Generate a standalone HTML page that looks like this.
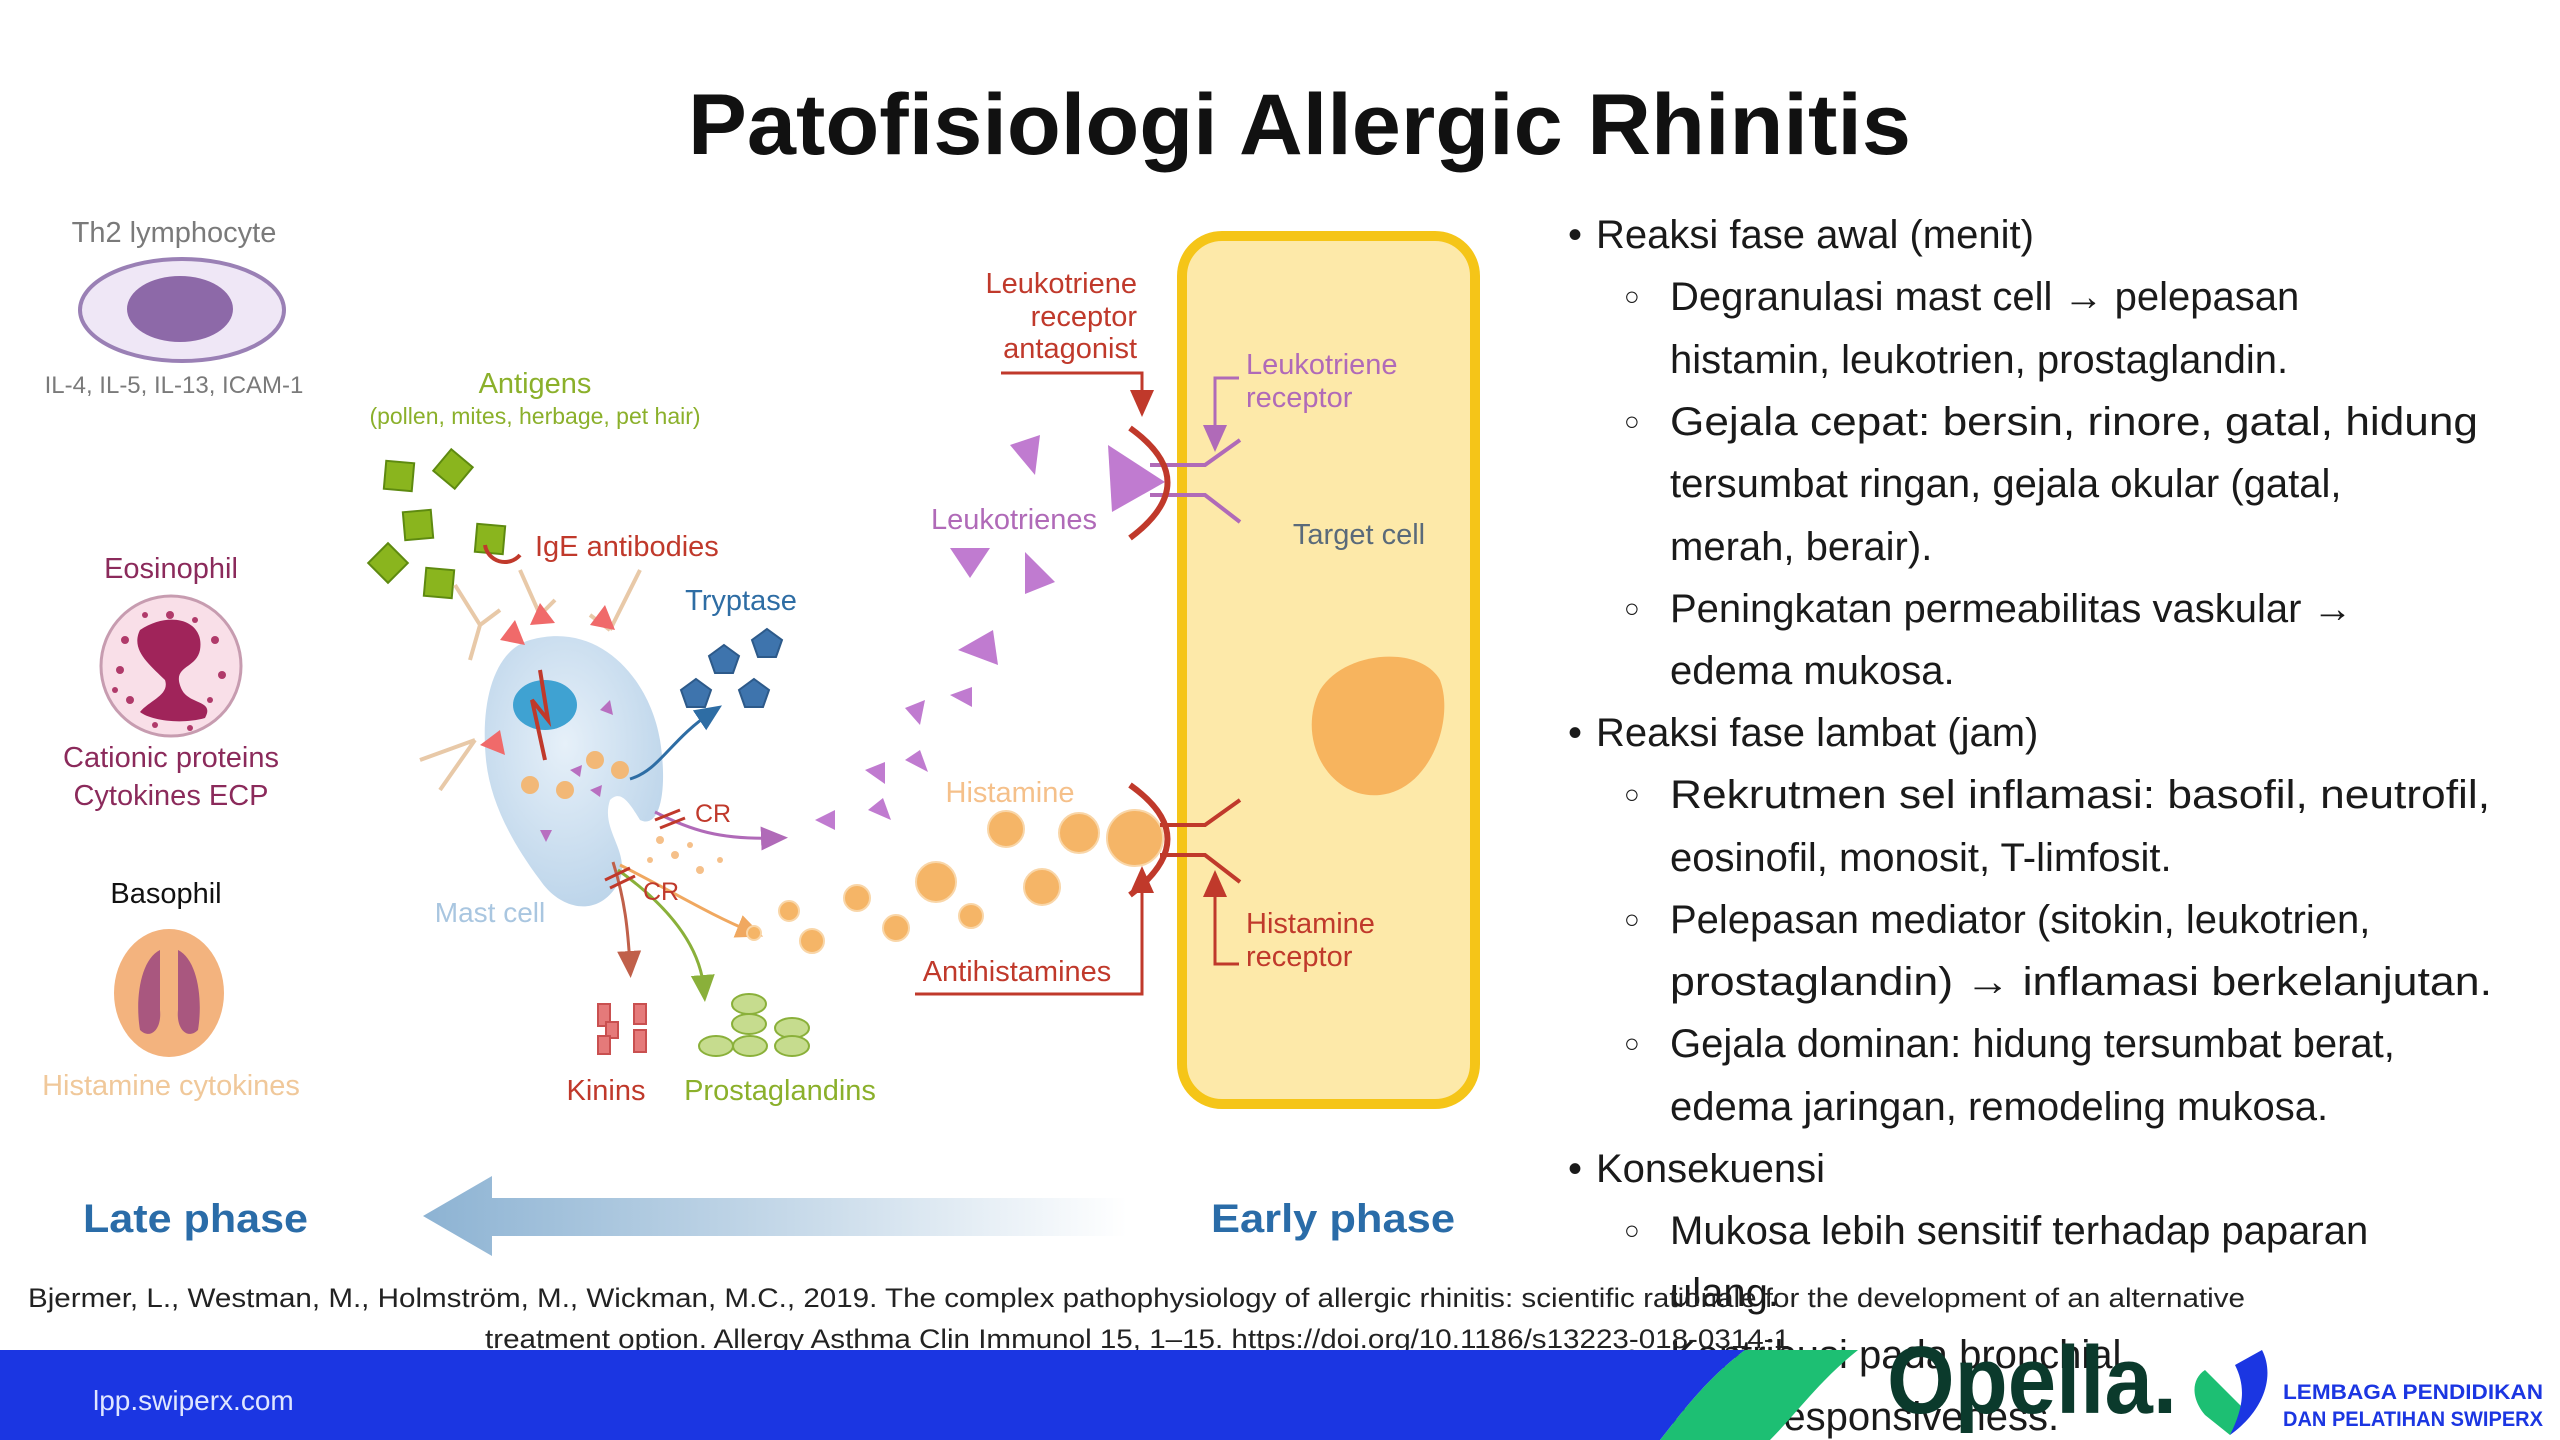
<!DOCTYPE html>
<html><head><meta charset="utf-8"><style>
html,body{margin:0;padding:0;background:#fff;}
svg{display:block;}
text{font-family:"Liberation Sans",sans-serif;}
</style></head><body>
<svg width="2560" height="1440" viewBox="0 0 2560 1440" xmlns="http://www.w3.org/2000/svg">
<defs>
<linearGradient id="ag" x1="0" x2="1" y1="0" y2="0"><stop offset="0" stop-color="#8db3d3"/><stop offset="0.55" stop-color="#c9dbea"/><stop offset="1" stop-color="#ffffff"/></linearGradient>
<radialGradient id="mc" cx="0.45" cy="0.4" r="0.7"><stop offset="0" stop-color="#e6f0f9"/><stop offset="1" stop-color="#b7d1e8"/></radialGradient>
<marker id="mR" markerWidth="10" markerHeight="10" refX="5" refY="5" orient="auto"><path d="M0,1 L9,5 L0,9 Z" fill="#c0392b"/></marker>
<marker id="mP" markerWidth="10" markerHeight="10" refX="5" refY="5" orient="auto"><path d="M0,1 L9,5 L0,9 Z" fill="#b06ab8"/></marker>
<marker id="mB" markerWidth="10" markerHeight="10" refX="5" refY="5" orient="auto"><path d="M0,1 L9,5 L0,9 Z" fill="#2e6da4"/></marker>
<marker id="mG" markerWidth="10" markerHeight="10" refX="5" refY="5" orient="auto"><path d="M0,1 L9,5 L0,9 Z" fill="#8ab03a"/></marker>
<marker id="mO" markerWidth="10" markerHeight="10" refX="5" refY="5" orient="auto"><path d="M0,1 L9,5 L0,9 Z" fill="#f0a860"/></marker>
<marker id="mK" markerWidth="10" markerHeight="10" refX="5" refY="5" orient="auto"><path d="M0,1 L9,5 L0,9 Z" fill="#c0604a"/></marker>
</defs>

<!-- Title -->
<text x="688" y="154" font-size="86" font-weight="bold" fill="#111" textLength="1223" lengthAdjust="spacingAndGlyphs">Patofisiologi Allergic Rhinitis</text>

<!-- Left column cells -->
<text x="174" y="242" font-size="29" fill="#7a7a7a" text-anchor="middle">Th2 lymphocyte</text>
<ellipse cx="182" cy="310" rx="102" ry="51" fill="#efe7f6" stroke="#9a80b5" stroke-width="4"/>
<ellipse cx="180" cy="309" rx="53" ry="33" fill="#8d69a8"/>
<text x="174" y="393" font-size="24" fill="#7a7a7a" text-anchor="middle">IL-4, IL-5, IL-13, ICAM-1</text>

<text x="171" y="578" font-size="29" fill="#8b2a5b" text-anchor="middle">Eosinophil</text>
<ellipse cx="171" cy="666" rx="70" ry="70" fill="#f9dfe8" stroke="#c79cb0" stroke-width="3"/>
<path d="M140,630 C170,610 205,620 200,650 C196,670 170,665 182,690 C190,705 215,700 205,718 C180,725 150,720 140,712 C150,700 170,695 165,680 C150,665 130,650 140,630 Z" fill="#a0245a"/>
<g fill="#b03a6a">
<circle cx="125" cy="640" r="4"/><circle cx="120" cy="670" r="4"/><circle cx="130" cy="700" r="4"/><circle cx="215" cy="640" r="4"/><circle cx="222" cy="675" r="4"/><circle cx="170" cy="615" r="4"/><circle cx="145" cy="615" r="3"/><circle cx="195" cy="620" r="3"/><circle cx="210" cy="700" r="3"/><circle cx="155" cy="725" r="3"/><circle cx="190" cy="728" r="3"/><circle cx="115" cy="690" r="3"/>
</g>
<text x="171" y="767" font-size="29" fill="#8b2a5b" text-anchor="middle">Cationic proteins</text>
<text x="171" y="805" font-size="29" fill="#8b2a5b" text-anchor="middle">Cytokines ECP</text>

<text x="166" y="903" font-size="29" fill="#111" text-anchor="middle">Basophil</text>
<ellipse cx="169" cy="993" rx="55" ry="64" fill="#f3b37e"/>
<path d="M160,950 C140,960 135,1000 140,1030 C150,1040 162,1030 160,1010 Z" fill="#a9577f"/>
<path d="M178,950 C198,960 203,1000 198,1030 C188,1040 176,1030 178,1010 Z" fill="#a9577f"/>
<text x="171" y="1095" font-size="29" fill="#f0c89a" text-anchor="middle">Histamine cytokines</text>

<!-- Antigens -->
<text x="535" y="393" font-size="29" fill="#8bb02b" text-anchor="middle">Antigens</text>
<text x="535" y="424" font-size="23" fill="#8bb02b" text-anchor="middle">(pollen, mites, herbage, pet hair)</text>
<g fill="#8ab51e" stroke="#5e8a10" stroke-width="2">
<rect x="385" y="462" width="28" height="28" transform="rotate(5 399 476)"/>
<rect x="439" y="455" width="28" height="28" transform="rotate(40 453 469)"/>
<rect x="404" y="511" width="28" height="28" transform="rotate(-5 418 525)"/>
<rect x="476" y="525" width="28" height="28" transform="rotate(5 490 539)"/>
<rect x="374" y="549" width="28" height="28" transform="rotate(45 388 563)"/>
<rect x="425" y="569" width="28" height="28" transform="rotate(5 439 583)"/>
</g>
<path d="M485,545 A20,20 0 0 0 520,555" fill="none" stroke="#c0392b" stroke-width="4"/>
<text x="535" y="556" font-size="29" fill="#c0392b">IgE antibodies</text>

<!-- Mast cell -->
<g stroke="#e8c9a8" stroke-width="4" fill="none">
<path d="M455,585 L480,625 L470,660 M480,625 L500,610"/>
<path d="M520,570 L540,615 M540,615 L555,600"/>
<path d="M640,570 L610,630 M610,630 L590,615"/>
<path d="M420,760 L475,740 M440,790 L475,740"/>
</g>
<path d="M530,640 C600,620 650,680 660,740 C668,790 660,830 640,820 C628,800 620,790 610,800 C600,830 630,850 620,880 C600,920 560,910 540,880 C510,840 490,800 486,760 C480,700 495,650 530,640 Z" fill="url(#mc)"/>
<g fill="#f06a6a">
<path d="M500,640 l15,-20 l10,25 Z"/><path d="M530,625 l10,-22 l15,20 Z"/><path d="M590,625 l15,-20 l10,25 Z"/><path d="M480,745 l20,-15 l5,25 Z"/>
</g>
<ellipse cx="545" cy="705" rx="32" ry="25" fill="#3fa2d2"/>
<path d="M540,670 L548,720 L532,700 L545,760" stroke="#c0392b" stroke-width="4" fill="none"/>
<g fill="#f2b877">
<circle cx="595" cy="760" r="9"/><circle cx="620" cy="770" r="9"/><circle cx="530" cy="785" r="9"/><circle cx="565" cy="790" r="9"/>
</g>
<g fill="#b86fc0">
<path d="M600,710 l10,-10 l3,15 Z"/><path d="M570,770 l12,-5 l-2,12 Z"/><path d="M590,790 l12,-5 l-2,12 Z"/><path d="M540,830 l12,0 l-6,12 Z"/>
</g>
<text x="490" y="922" font-size="28" fill="#a9c6e0" text-anchor="middle">Mast cell</text>

<!-- arrows from mast cell -->
<path d="M630,779 C660,770 670,740 712,712" fill="none" stroke="#2e6da4" stroke-width="3" marker-end="url(#mB)"/>
<path d="M655,812 C690,830 720,840 776,838" fill="none" stroke="#b06ab8" stroke-width="3" marker-end="url(#mP)"/>
<path d="M613,862 C625,900 628,930 630,966" fill="none" stroke="#c0604a" stroke-width="3" marker-end="url(#mK)"/>
<path d="M618,870 C660,900 700,940 704,990" fill="none" stroke="#8ab03a" stroke-width="3" marker-end="url(#mG)"/>
<path d="M620,865 C670,890 710,915 752,932" fill="none" stroke="#f0a860" stroke-width="3" marker-end="url(#mO)"/>
<g stroke="#c0392b" stroke-width="3"><line x1="655" y1="820" x2="680" y2="810"/><line x1="660" y1="828" x2="685" y2="818"/><line x1="605" y1="880" x2="630" y2="868"/><line x1="610" y1="888" x2="635" y2="876"/></g>
<text x="695" y="822" font-size="25" fill="#c0392b">CR</text>
<text x="643" y="900" font-size="25" fill="#c0392b">CR</text>
<g fill="#f5c08a"><circle cx="660" cy="840" r="4"/><circle cx="675" cy="855" r="4"/><circle cx="690" cy="845" r="3"/><circle cx="700" cy="870" r="4"/><circle cx="650" cy="860" r="3"/><circle cx="720" cy="860" r="3"/></g>

<!-- Tryptase -->
<text x="741" y="610" font-size="29" fill="#2e6da4" text-anchor="middle">Tryptase</text>
<g fill="#3e74ad" stroke="#2d5a8a" stroke-width="2">
<path d="M724,645 l15,11 l-6,17 h-18 l-6,-17 Z"/>
<path d="M767,629 l15,11 l-6,17 h-18 l-6,-17 Z"/>
<path d="M696,679 l15,11 l-6,17 h-18 l-6,-17 Z"/>
<path d="M754,679 l15,11 l-6,17 h-18 l-6,-17 Z"/>
</g>

<!-- Kinins & prostaglandins -->
<g fill="#e57a7a" stroke="#c95050" stroke-width="2">
<rect x="598" y="1004" width="12" height="22"/><rect x="606" y="1022" width="12" height="16"/><rect x="598" y="1036" width="12" height="18"/><rect x="634" y="1004" width="12" height="20"/><rect x="634" y="1030" width="12" height="22"/>
</g>
<text x="606" y="1100" font-size="29" fill="#c0392b" text-anchor="middle">Kinins</text>
<g fill="#c6dc8e" stroke="#8ab03a" stroke-width="2">
<ellipse cx="749" cy="1004" rx="17" ry="10"/><ellipse cx="749" cy="1024" rx="17" ry="10"/><ellipse cx="716" cy="1046" rx="17" ry="10"/><ellipse cx="750" cy="1046" rx="17" ry="10"/><ellipse cx="792" cy="1028" rx="17" ry="10"/><ellipse cx="792" cy="1046" rx="17" ry="10"/>
</g>
<text x="780" y="1100" font-size="29" fill="#8bb02b" text-anchor="middle">Prostaglandins</text>

<!-- Leukotrienes -->
<g fill="#c07bd0">
<path d="M1010,445 l30,-10 l-5,40 Z"/>
<path d="M950,548 l40,0 l-20,30 Z"/>
<path d="M1025,552 l30,30 l-30,12 Z"/>
<path d="M958,650 l35,-20 l5,35 Z"/>
<path d="M905,708 l20,-8 l-5,25 Z"/>
<path d="M950,695 l22,-8 l0,20 Z"/>
<path d="M865,770 l20,-8 l0,22 Z"/>
<path d="M905,760 l15,-10 l8,22 Z"/>
<path d="M815,820 l20,-10 l0,20 Z"/>
<path d="M868,810 l15,-12 l8,22 Z"/>
<path d="M1108,445 L1165,482 L1112,512 Z"/>
</g>
<text x="1014" y="529" font-size="29" fill="#b06ab8" text-anchor="middle">Leukotrienes</text>

<!-- Histamine -->
<text x="1010" y="802" font-size="29" fill="#f5c08a" text-anchor="middle">Histamine</text>
<g fill="#f5b567" stroke="#f9d6a8" stroke-width="2">
<circle cx="1006" cy="829" r="18"/><circle cx="1079" cy="833" r="20"/><circle cx="1135" cy="838" r="28"/><circle cx="936" cy="882" r="20"/><circle cx="1042" cy="887" r="18"/><circle cx="857" cy="898" r="13"/><circle cx="812" cy="941" r="12"/><circle cx="789" cy="911" r="10"/><circle cx="896" cy="928" r="13"/><circle cx="971" cy="916" r="12"/><circle cx="754" cy="933" r="7"/>
</g>

<!-- Target cell -->
<rect x="1182" y="236" width="293" height="868" rx="40" fill="#fde9a9" stroke="#f5c518" stroke-width="10"/>
<path d="M1320,690 C1345,650 1420,645 1440,680 C1455,720 1430,790 1380,795 C1330,800 1295,740 1320,690 Z" fill="#f7b45e"/>
<text x="1359" y="544" font-size="29" fill="#5a6a7a" text-anchor="middle">Target cell</text>

<!-- receptors -->
<g stroke="#b06ab8" stroke-width="4" fill="none">
<path d="M1150,465 L1205,465 L1240,440"/><path d="M1150,495 L1205,495 L1240,522"/>
</g>
<path d="M1130,428 Q1205,482 1130,538" fill="none" stroke="#c0392b" stroke-width="6"/>
<g stroke="#c0392b" stroke-width="4" fill="none">
<path d="M1160,825 L1205,825 L1240,800"/><path d="M1160,855 L1205,855 L1240,882"/>
</g>
<path d="M1130,785 Q1205,838 1130,895" fill="none" stroke="#c0392b" stroke-width="6"/>

<!-- labels with pointers -->
<g font-size="29" fill="#c0392b" text-anchor="end">
<text x="1137" y="293">Leukotriene</text><text x="1137" y="326">receptor</text><text x="1137" y="358">antagonist</text>
</g>
<path d="M1001,373 L1142,373 L1142,405" fill="none" stroke="#c0392b" stroke-width="3" marker-end="url(#mR)"/>
<text x="1246" y="374" font-size="29" fill="#b06ab8">Leukotriene</text>
<text x="1246" y="407" font-size="29" fill="#b06ab8">receptor</text>
<path d="M1239,378 L1215,378 L1215,440" fill="none" stroke="#b06ab8" stroke-width="3" marker-end="url(#mP)"/>
<text x="1017" y="981" font-size="29" fill="#c0392b" text-anchor="middle">Antihistamines</text>
<path d="M915,994 L1142,994 L1142,878" fill="none" stroke="#c0392b" stroke-width="3" marker-end="url(#mR)"/>
<text x="1246" y="933" font-size="29" fill="#c0392b">Histamine</text>
<text x="1246" y="966" font-size="29" fill="#c0392b">receptor</text>
<path d="M1239,964 L1215,964 L1215,882" fill="none" stroke="#c0392b" stroke-width="3" marker-end="url(#mR)"/>

<!-- phase arrow -->
<path d="M423,1216 L492,1176 L492,1198 L1127,1198 L1127,1236 L492,1236 L492,1256 Z" fill="url(#ag)"/>
<text x="83" y="1232" font-size="40" font-weight="bold" fill="#2a6ca8" textLength="225" lengthAdjust="spacingAndGlyphs">Late phase</text>
<text x="1211" y="1232" font-size="40" font-weight="bold" fill="#2a6ca8" textLength="244" lengthAdjust="spacingAndGlyphs">Early phase</text>

<!-- Right text -->
<g font-size="40" fill="#1a1a1a">
<text x="1568" y="248">•</text><text x="1596" y="248">Reaksi fase awal (menit)</text>
<text x="1624" y="305" font-size="26">○</text><text x="1670" y="310">Degranulasi mast cell → pelepasan</text>
<text x="1670" y="373">histamin, leukotrien, prostaglandin.</text>
<text x="1624" y="430" font-size="26">○</text><text x="1670" y="435" textLength="808" lengthAdjust="spacingAndGlyphs">Gejala cepat: bersin, rinore, gatal, hidung</text>
<text x="1670" y="497">tersumbat ringan, gejala okular (gatal,</text>
<text x="1670" y="560">merah, berair).</text>
<text x="1624" y="617" font-size="26">○</text><text x="1670" y="622">Peningkatan permeabilitas vaskular →</text>
<text x="1670" y="684">edema mukosa.</text>
<text x="1568" y="746">•</text><text x="1596" y="746">Reaksi fase lambat (jam)</text>
<text x="1624" y="803" font-size="26">○</text><text x="1670" y="808" textLength="820" lengthAdjust="spacingAndGlyphs">Rekrutmen sel inflamasi: basofil, neutrofil,</text>
<text x="1670" y="871">eosinofil, monosit, T-limfosit.</text>
<text x="1624" y="928" font-size="26">○</text><text x="1670" y="933">Pelepasan mediator (sitokin, leukotrien,</text>
<text x="1670" y="995" textLength="822" lengthAdjust="spacingAndGlyphs">prostaglandin) → inflamasi berkelanjutan.</text>
<text x="1624" y="1052" font-size="26">○</text><text x="1670" y="1057">Gejala dominan: hidung tersumbat berat,</text>
<text x="1670" y="1120">edema jaringan, remodeling mukosa.</text>
<text x="1568" y="1182">•</text><text x="1596" y="1182">Konsekuensi</text>
<text x="1624" y="1239" font-size="26">○</text><text x="1670" y="1244">Mukosa lebih sensitif terhadap paparan</text>
<text x="1670" y="1306">ulang.</text>
<text x="1624" y="1363" font-size="26">○</text><text x="1670" y="1368">Kontribusi pada bronchial</text>
<text x="1670" y="1430">hyperresponsiveness.</text>
</g>

<!-- Citation -->
<text x="28" y="1307" font-size="27" fill="#222" textLength="2217" lengthAdjust="spacingAndGlyphs">Bjermer, L., Westman, M., Holmström, M., Wickman, M.C., 2019. The complex pathophysiology of allergic rhinitis: scientific rationale for the development of an alternative</text>
<text x="485" y="1348" font-size="27" fill="#222" textLength="1305" lengthAdjust="spacingAndGlyphs">treatment option. Allergy Asthma Clin Immunol 15, 1–15. https://doi.org/10.1186/s13223-018-0314-1</text>

<!-- Footer -->
<path d="M0,1350 H1745 C1705,1380 1680,1415 1660,1440 H0 Z" fill="#1b36e2"/>
<path d="M1745,1350 H1858 C1820,1380 1795,1415 1770,1440 H1660 C1680,1415 1705,1380 1745,1350 Z" fill="#1dbf73"/>
<text x="93" y="1410" font-size="28" fill="#dfe6ff">lpp.swiperx.com</text>
<text x="1887" y="1413" font-size="96" font-weight="bold" fill="#0b3a2c" textLength="290" lengthAdjust="spacingAndGlyphs">Opella.</text>
<path d="M2205,1370 C2190,1380 2192,1400 2205,1415 L2230,1435 L2245,1410 Z" fill="#1dbf73"/>
<path d="M2235,1365 L2262,1350 C2275,1375 2265,1410 2230,1435 C2245,1405 2245,1385 2235,1365 Z" fill="#1b36e2"/>
<text x="2283" y="1399" font-size="21" font-weight="bold" fill="#1b36e2" textLength="260" lengthAdjust="spacingAndGlyphs">LEMBAGA PENDIDIKAN</text>
<text x="2283" y="1426" font-size="21" font-weight="bold" fill="#1b36e2" textLength="260" lengthAdjust="spacingAndGlyphs">DAN PELATIHAN SWIPERX</text>
</svg>
</body></html>
